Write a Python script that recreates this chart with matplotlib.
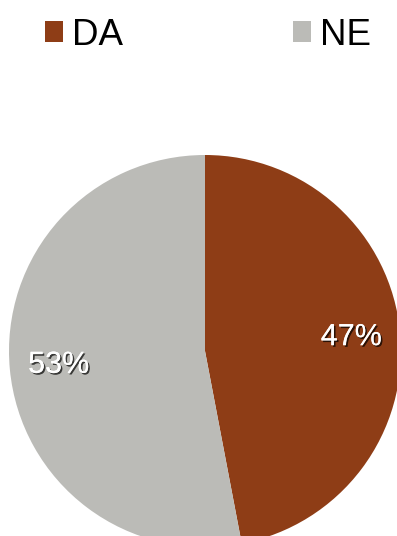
import matplotlib
matplotlib.use("Agg")
import matplotlib.pyplot as plt
from matplotlib.patches import Rectangle
import matplotlib.patheffects as pe

categories = ["DA", "NE"]
values = [47, 53]
colors = ["#8E3D16", "#BBBBB7"]

plt.rcParams['font.family'] = ['Liberation Sans', 'DejaVu Sans']

W, H = 397, 536
fig = plt.figure(figsize=(W/100, H/100), dpi=100)
cx, cy, r = 205, 351, 196
ax = fig.add_axes([(cx - r)/W, (H - (cy + r))/H, 2*r/W, 2*r/H])
wedges, texts, autotexts = ax.pie(values, colors=colors, startangle=90, counterclock=False,
                                  autopct=lambda p: '%d%%' % round(p), pctdistance=0.75,
                                  textprops=dict(color='white', fontsize=22))
for t in autotexts:
    t.set_path_effects([pe.withSimplePatchShadow(offset=(1.2, -1.2), shadow_rgbFace='black', alpha=0.7),
                        pe.Normal()])
ax.set_xlim(-1, 1)
ax.set_ylim(-1, 1)
ax.set_aspect('equal')
ax.axis('off')

handles = [Rectangle((0, 0), 1, 1, facecolor=c) for c in colors]
fig.legend(handles, categories, loc='upper left', bbox_to_anchor=(30/W, 1 - 3/H), ncol=2,
           frameon=False, fontsize=26.5, handlelength=0.5, handleheight=0.5,
           handletextpad=0.25, columnspacing=4.6, borderaxespad=0)

fig.savefig("out.png", dpi=100)
